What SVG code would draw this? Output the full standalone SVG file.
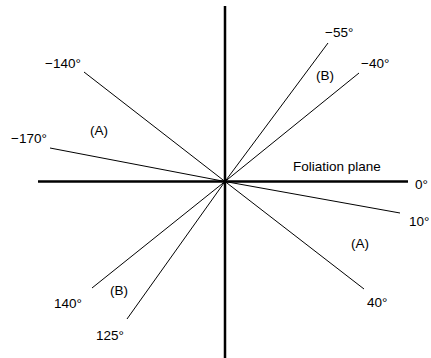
<svg xmlns="http://www.w3.org/2000/svg" width="431" height="358" viewBox="0 0 431 358">
<style>
.axis{stroke:#000;stroke-width:2.5;fill:none}
.ray{stroke:#000;stroke-width:1;fill:none}
text{font-family:"Liberation Sans",Arial,sans-serif;font-size:13.5px;fill:#000}
</style>
<rect width="431" height="358" fill="#fff"/>
<g id="connectors">
<line class="axis" x1="225" y1="6" x2="225" y2="358"/>
<line class="axis" x1="38" y1="181.5" x2="408" y2="181.5"/>
<line class="ray" x1="225" y1="181.5" x2="84" y2="72"/>
<line class="ray" x1="225" y1="181.5" x2="50" y2="148"/>
<line class="ray" x1="225" y1="181.5" x2="328" y2="43"/>
<line class="ray" x1="225" y1="181.5" x2="359" y2="73"/>
<line class="ray" x1="225" y1="181.5" x2="400" y2="213"/>
<line class="ray" x1="225" y1="181.5" x2="364" y2="289"/>
<line class="ray" x1="225" y1="181.5" x2="92" y2="288"/>
<line class="ray" x1="225" y1="181.5" x2="127" y2="319"/>
</g>
<g id="labels">
<text x="45" y="68">−140°</text>
<text x="11" y="143">−170°</text>
<text x="90" y="135">(A)</text>
<text x="325" y="37">−55°</text>
<text x="361" y="68">−40°</text>
<text x="316" y="80">(B)</text>
<text x="293" y="171" font-size="14">Foliation plane</text>
<text x="415" y="189">0°</text>
<text x="409" y="226">10°</text>
<text x="351" y="248">(A)</text>
<text x="367" y="307">40°</text>
<text x="54" y="308">140°</text>
<text x="110" y="295">(B)</text>
<text x="96" y="340">125°</text>
</g>
</svg>
